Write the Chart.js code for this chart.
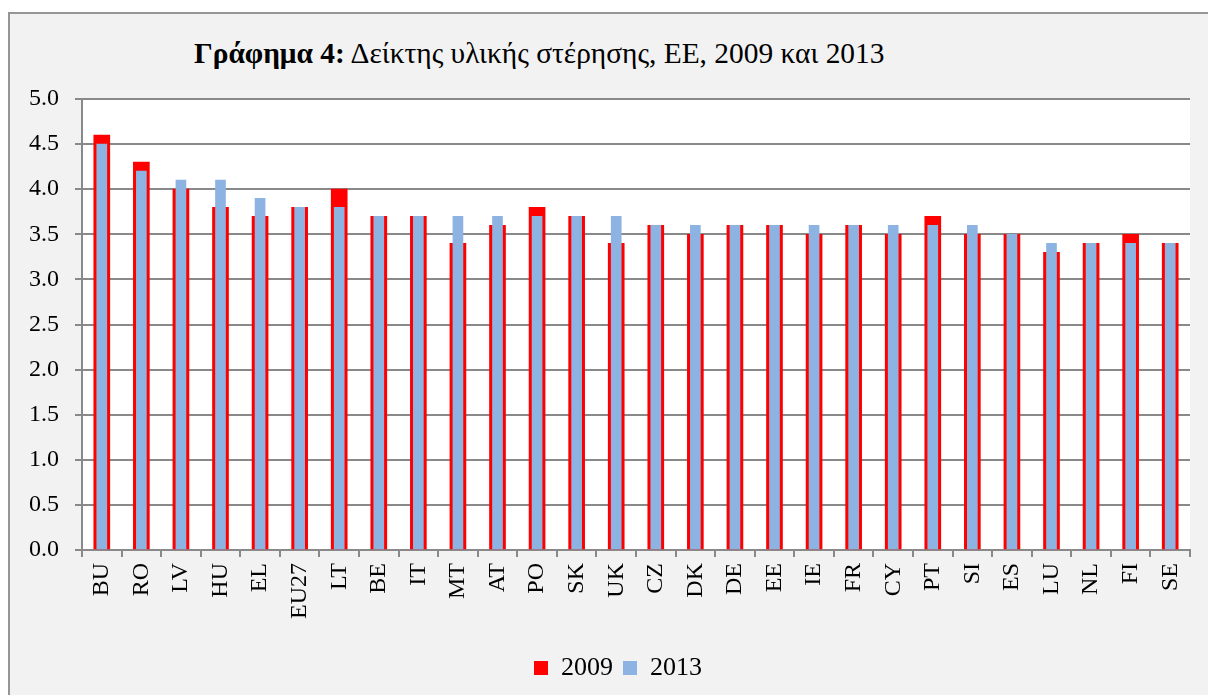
<!DOCTYPE html>
<html>
<head>
<meta charset="utf-8">
<script src="https://cdn.jsdelivr.net/npm/chart.js@4.4.1/dist/chart.umd.min.js"></script>
<style>
    html, body { margin: 0; padding: 0; background: #fff; overflow: hidden; }
    #cornice {
        position: absolute; left: 8px; top: 12px; width: 1220px; height: 700px;
        background: #f2f2f2; border: 2px solid #969696; box-sizing: border-box;
    }
    #titolo {
        position: absolute; left: 194px; top: 39px; line-height: 29px;
        font-family: "Liberation Serif", serif; font-size: 29.4px; color: #000; white-space: nowrap;
    }
    #grafico { position: absolute; left: 0; top: 0; }
</style>
</head>
<body>
<div id="cornice"></div>
<div id="titolo"><b>Γράφημα 4:</b> Δείκτης υλικής στέρησης, ΕΕ, 2009 και 2013</div>
<canvas id="grafico" width="1208" height="695"></canvas>
<script>
// dati
var paesi = ['BU', 'RO', 'LV', 'HU', 'EL', 'EU27', 'LT', 'BE', 'IT', 'MT', 'AT', 'PO', 'SK', 'UK',
    'CZ', 'DK', 'DE', 'EE', 'IE', 'FR', 'CY', 'PT', 'SI', 'ES', 'LU', 'NL', 'FI', 'SE'];
var valori2009 = [4.6, 4.3, 4.0, 3.8, 3.7, 3.8, 4.0, 3.7, 3.7, 3.4, 3.6, 3.8, 3.7, 3.4,
    3.6, 3.5, 3.6, 3.6, 3.5, 3.6, 3.5, 3.7, 3.5, 3.5, 3.3, 3.4, 3.5, 3.4];
var valori2013 = [4.5, 4.2, 4.1, 4.1, 3.9, 3.8, 3.8, 3.7, 3.7, 3.7, 3.7, 3.7, 3.7, 3.7,
    3.6, 3.6, 3.6, 3.6, 3.6, 3.6, 3.6, 3.6, 3.6, 3.5, 3.4, 3.4, 3.4, 3.4];
var anni = ['2009', '2013'];

var grigio = '#898989';
var carattere = '"Liberation Serif", "Times New Roman", serif';

// sfondo bianco solo dentro l'area del grafico
var sfondoBianco = {
    id: 'sfondoBianco',
    afterLayout: function(chart) {
        // sposta un po' la legenda verso destra, come nell'originale
        if (chart.legend) {
            chart.legend.left += 12;
            chart.legend.right += 12;
        }
    },
    beforeDraw: function(chart) {
        var a = chart.chartArea;
        var ctx = chart.ctx;
        ctx.save();
        ctx.fillStyle = '#ffffff';
        ctx.fillRect(a.left, a.top, a.right - a.left, a.bottom - a.top);
        ctx.restore();
    }
};

Chart.defaults.color = '#000';
Chart.defaults.font.family = carattere;

var ctx = document.getElementById('grafico').getContext('2d');
var myBarChart = new Chart(ctx, {
    type: 'bar',
    data: {
        labels: paesi,
        datasets: [{
            label: anni[0],
            data: valori2009,
            backgroundColor: '#ff0000',
            barThickness: 16,
            grouped: false,
            order: 1   // disegnato sotto
        }, {
            label: anni[1],
            data: valori2013,
            backgroundColor: '#8db3e2',
            barThickness: 10,
            grouped: false,
            order: 0   // disegnato sopra
        }]
    },
    options: {
        responsive: false,
        animation: false,
        devicePixelRatio: 1,
        layout: {
            padding: { left: 22, right: 18, top: 99, bottom: 4 }
        },
        plugins: {
            title: { display: false },
            tooltip: { enabled: false },
            legend: {
                position: 'bottom',
                labels: {
                    boxWidth: 14,
                    boxHeight: 14,
                    padding: 10,
                    font: { size: 26, family: carattere },
                    sort: function(a, b) { return a.datasetIndex - b.datasetIndex; }
                }
            }
        },
        scales: {
            x: {
                afterFit: function(scale) { scale.height = 95; },
                grid: {
                    display: true,
                    drawOnChartArea: false,
                    drawTicks: true,
                    tickLength: 7,
                    color: grigio,
                    lineWidth: 2,
                    offset: true
                },
                border: { display: true, color: grigio, width: 2 },
                ticks: {
                    minRotation: 90,
                    maxRotation: 90,
                    autoSkip: false,
                    padding: 6,
                    font: { size: 24, family: carattere }
                }
            },
            y: {
                min: 0,
                max: 5,
                afterFit: function(scale) { scale.width = 60; },
                grid: {
                    color: grigio,
                    lineWidth: 2,
                    tickLength: 7
                },
                border: { display: true, color: grigio, width: 2 },
                ticks: {
                    stepSize: 0.5,
                    padding: 16,
                    font: { size: 24, family: carattere },
                    callback: function(v) { return v.toFixed(1); }
                }
            }
        }
    },
    plugins: [sfondoBianco]
});
</script>
</body>
</html>
